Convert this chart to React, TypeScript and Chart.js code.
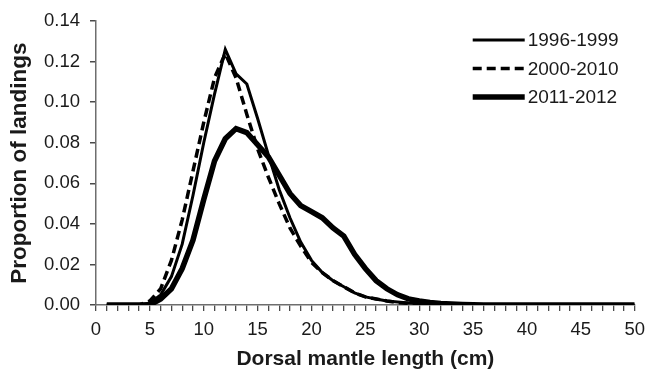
import React, { useEffect, useRef } from "react";
import { Chart, registerables } from "chart.js";

Chart.register(...registerables);

const lengths = [1, 2, 3, 4, 5, 6, 7, 8, 9, 10, 11, 12, 13, 14, 15, 16, 17, 18, 19, 20, 21, 22, 23, 24, 25, 26, 27, 28, 29, 30, 31, 32, 33, 34, 35, 36, 37, 38, 39, 40, 41, 42, 43, 44, 45, 46, 47, 48, 49, 50];

const p1996 = [0, 0, 0, 0, 0.001, 0.005, 0.014, 0.03, 0.054, 0.08, 0.104, 0.126, 0.114, 0.109, 0.092, 0.074, 0.057, 0.043, 0.031, 0.022, 0.016, 0.012, 0.009, 0.006, 0.004, 0.003, 0.002, 0.0015, 0.001, 0.0008, 0.0005, 0.0003, 0.0002, 0.0001, 0, 0, 0, 0, 0, 0, 0, 0, 0, 0, 0, 0, 0, 0, 0, 0];

const p2000 = [0, 0, 0, 0, 0.002, 0.008, 0.022, 0.042, 0.066, 0.09, 0.112, 0.124, 0.112, 0.094, 0.077, 0.063, 0.05, 0.038, 0.029, 0.021, 0.016, 0.012, 0.009, 0.006, 0.004, 0.003, 0.002, 0.0012, 0.0008, 0.0005, 0.0003, 0.0002, 0.0001, 0, 0, 0, 0, 0, 0, 0, 0, 0, 0, 0, 0, 0, 0, 0, 0, 0];

const p2011 = [0, 0, 0, 0, 0, 0.003, 0.008, 0.018, 0.032, 0.052, 0.071, 0.082, 0.087, 0.085, 0.079, 0.073, 0.064, 0.055, 0.049, 0.046, 0.043, 0.038, 0.034, 0.025, 0.018, 0.012, 0.008, 0.005, 0.003, 0.002, 0.0013, 0.0008, 0.0005, 0.0003, 0.0001, 0, 0, 0, 0, 0, 0, 0, 0, 0, 0, 0, 0, 0, 0, 0];

const seriesLabels = ["1996-1999", "2000-2010", "2011-2012"];

const FONT = "'Liberation Sans', Arial, Helvetica, sans-serif";
const AXIS_COLOR = "#6e6e6e";
const TICK_COLOR = "#4a4a4a";
const TEXT_COLOR = "#1a1a1a";

const legendPlugin = {
  id: "customLegend",
  afterDraw(chart: any) {
    const ctx = chart.ctx;
    const area = chart.chartArea;
    const x0 = area.right - 162;
    const x1 = x0 + 52;
    ctx.save();
    chart.data.datasets.forEach((ds: any, i: number) => {
      const y = area.top + 19 + i * 28.5;
      ctx.beginPath();
      ctx.strokeStyle = ds.borderColor;
      ctx.lineWidth = ds.borderWidth;
      ctx.setLineDash(ds.borderDash || []);
      ctx.moveTo(x0, y);
      ctx.lineTo(x1, y);
      ctx.stroke();
      ctx.setLineDash([]);
      ctx.fillStyle = TEXT_COLOR;
      ctx.font = `19px ${FONT}`;
      ctx.textAlign = "left";
      ctx.textBaseline = "middle";
      ctx.fillText(ds.label, x1 + 3, y + 1);
    });
    ctx.restore();
  },
};

export default function App() {
  const ref = useRef<HTMLCanvasElement | null>(null);

  useEffect(() => {
    if (!ref.current) return;
    const mk = (arr: number[]) => lengths.map((x, i) => ({ x, y: arr[i] }));
    const chart = new Chart(ref.current, {
      type: "line",
      data: {
        datasets: [
          {
            label: seriesLabels[0],
            data: mk(p1996),
            borderColor: "#000",
            borderWidth: 3,
            pointRadius: 0,
            tension: 0,
          },
          {
            label: seriesLabels[1],
            data: mk(p2000),
            borderColor: "#000",
            borderWidth: 3.5,
            borderDash: [9, 5],
            pointRadius: 0,
            tension: 0,
          },
          {
            label: seriesLabels[2],
            data: mk(p2011),
            borderColor: "#000",
            borderWidth: 5.5,
            pointRadius: 0,
            tension: 0,
          },
        ],
      },
      options: {
        responsive: false,
        animation: false,
        layout: { padding: { top: 20, right: 15, left: 0, bottom: 0 } },
        plugins: {
          legend: { display: false },
          tooltip: { enabled: false },
        },
        scales: {
          x: {
            type: "linear",
            min: 0,
            max: 50,
            afterFit: (s: any) => {
              s.height = 67;
            },
            afterBuildTicks: (s: any) => {
              s.ticks = lengths.map((v) => v - 1).concat([50]).map((v) => ({ value: v }));
            },
            border: { display: true, color: AXIS_COLOR, width: 1.5 },
            grid: {
              drawOnChartArea: false,
              drawTicks: true,
              tickLength: 6,
              color: TICK_COLOR,
              lineWidth: 1.3,
            },
            ticks: {
              autoSkip: false,
              maxRotation: 0,
              padding: 8,
              color: TEXT_COLOR,
              font: { family: FONT, size: 18.5 },
              callback: (v: any) => (Number(v) % 5 === 0 ? String(v) : ""),
            },
            title: {
              display: true,
              text: "Dorsal mantle length (cm)",
              color: TEXT_COLOR,
              font: { family: FONT, size: 21, weight: "bold" },
              padding: { top: 0, bottom: 0 },
            },
          },
          y: {
            min: 0,
            max: 0.14,
            afterFit: (s: any) => {
              s.width = 96;
            },
            border: { display: true, color: AXIS_COLOR, width: 1.5 },
            grid: {
              drawOnChartArea: false,
              drawTicks: true,
              tickLength: 6,
              color: TICK_COLOR,
              lineWidth: 1.5,
            },
            ticks: {
              stepSize: 0.02,
              padding: 10,
              color: TEXT_COLOR,
              font: { family: FONT, size: 18.5 },
              callback: (v: any) => Number(v).toFixed(2),
            },
            title: {
              display: true,
              text: "Proportion of landings",
              color: TEXT_COLOR,
              font: { family: FONT, size: 22.5, weight: "bold" },
              padding: { top: 6, bottom: 0 },
            },
          },
        },
      },
      plugins: [legendPlugin],
    });
    return () => chart.destroy();
  }, []);

  return (
    <div style={{ position: "absolute", left: 0, top: 0, width: 653, height: 372, background: "#fff" }}>
      <canvas ref={ref} width={653} height={372} />
    </div>
  );
}
